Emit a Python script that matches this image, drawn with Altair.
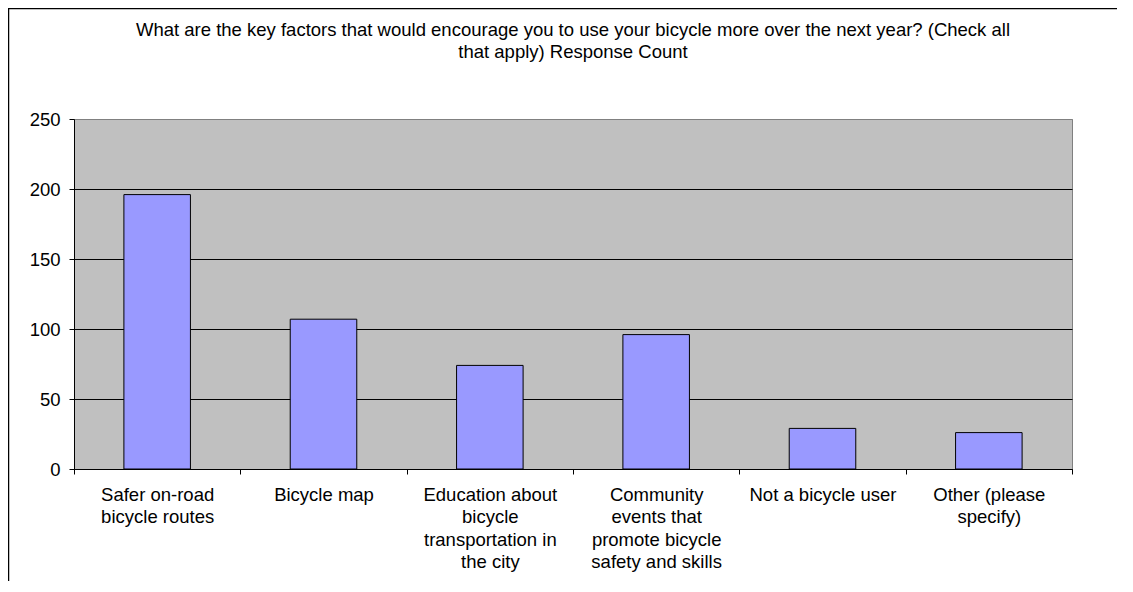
import altair as alt
import pandas as pd

# ---- data ----
categories = [
    "Safer on-road|bicycle routes",
    "Bicycle map",
    "Education about|bicycle|transportation in|the city",
    "Community|events that|promote bicycle|safety and skills",
    "Not a bicycle user",
    "Other (please|specify)",
]
counts = [196, 107, 74, 96, 29, 26]
y_ticks = [0, 50, 100, 150, 200, 250]
title_lines = [
    "What are the key factors that would encourage you to use your bicycle more over the next year? (Check all",
    "that apply) Response Count",
]

df = pd.DataFrame({"category": categories, "count": counts})
FONT = "Liberation Sans"
FS = 18.5

bars = alt.Chart(df).mark_bar(
    color="#9999FF", stroke="black", strokeWidth=1,
    width=alt.RelativeBandSize(0.4),
).encode(
    x=alt.X(
        "category:N", sort=categories,
        scale=alt.Scale(paddingInner=0, paddingOuter=0),
        axis=alt.Axis(
            title=None, labelAngle=0, labelExpr="split(datum.label, '|')",
            tickBand="extent", tickSize=5, tickColor="black",
            domainColor="black", labelColor="black", labelFont=FONT,
            labelFontSize=FS, labelLineHeight=22.5, labelPadding=11,
            labelBaseline="top", grid=False, labelLimit=0,
        ),
    ),
    y=alt.Y(
        "count:Q",
        scale=alt.Scale(domain=[0, 250], nice=False),
        axis=alt.Axis(
            values=y_ticks, title=None, grid=True,
            gridColor=alt.condition("datum.value == 250", alt.value("#808080"), alt.value("black")),
            gridWidth=1, tickSize=5, tickColor="black", domainColor="black",
            labelColor="black", labelFont=FONT, labelFontSize=FS,
            labelPadding=9,
        ),
    ),
)

one = pd.DataFrame({"k": [0]})
frame_left = alt.Chart(one).mark_rule(color="black", strokeWidth=1.5).encode(
    x=alt.value(-65.5), y=alt.value(-111), y2=alt.value(473)
)
frame_top = alt.Chart(one).mark_rule(color="black", strokeWidth=1.5).encode(
    x=alt.value(-66), x2=alt.value(1043), y=alt.value(-110.5)
)
title_text = alt.Chart(one).mark_text(
    font=FONT, fontSize=FS, color="black", align="center",
    baseline="alphabetic", lineHeight=22,
).encode(
    x=alt.value(499), y=alt.value(-83), text=alt.value(title_lines)
)

chart = alt.layer(bars, frame_left, frame_top, title_text).properties(
    width=998,
    height=350,
    autosize=alt.AutoSizeParams(type="none"),
    padding={"left": 66, "top": 111, "right": 45, "bottom": 112},
    background="white",
).configure_view(fill="#C0C0C0", stroke="#808080", strokeWidth=1)

chart.save("out.html", embed_options={"renderer": "svg", "actions": False})
